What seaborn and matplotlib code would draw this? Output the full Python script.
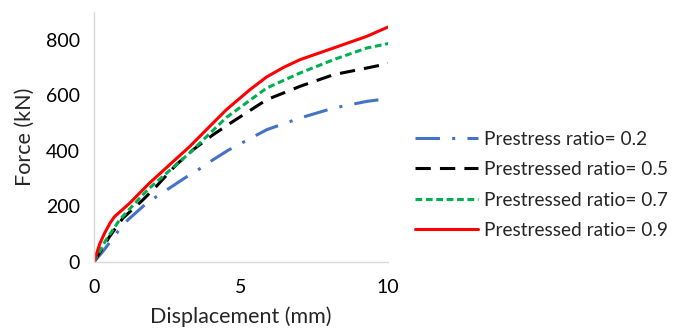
import numpy as np
import pandas as pd
import matplotlib
matplotlib.use("Agg")
import matplotlib.pyplot as plt
import seaborn as sns

x02 = [0, 0.3, 0.81, 1.15, 1.72, 2.12, 2.57, 3.2, 3.59, 4.05, 4.56, 5.87, 7.0, 8.14, 9.27, 10]
f02 = [0, 37, 109, 151, 205, 235, 266, 310, 335, 368, 402, 476, 518, 554, 578, 588]
x05 = [0, 0.19, 0.53, 0.98, 1.66, 2.12, 2.8, 3.37, 4.05, 4.73, 5.87, 7.0, 8.14, 9.27, 10]
f05 = [0, 32, 91, 157, 223, 272, 350, 404, 458, 506, 584, 632, 674, 698, 714]
x07 = [0, 0.41, 0.87, 1.6, 1.89, 3.25, 4.5, 5.87, 7.0, 8.14, 9.27, 10]
f07 = [0, 79, 151, 235, 266, 392, 520, 626, 680, 728, 770, 786]
x09 = [0, 0.2, 0.36, 0.55, 0.7, 1.21, 1.89, 3.25, 4.5, 5.3, 5.87, 6.44, 7.0, 8.14, 9.27, 10]
f09 = [0, 65, 103, 140, 163, 211, 284, 415, 548, 620, 666, 700, 728, 770, 812, 846]
labels = ["Prestress ratio= 0.2", "Prestressed ratio= 0.5",
          "Prestressed ratio= 0.7", "Prestressed ratio= 0.9"]

sns.set_theme(style="white")
plt.rcParams['font.family'] = ['Lato', 'DejaVu Sans']

fig = plt.figure(figsize=(6.8, 3.3), dpi=100)
ax = fig.add_axes([0.138, 0.206, 0.433, 0.758])

xs = [x02, x05, x07, x09]
series = [f02, f05, f07, f09]
colors = ["#4472C4", "#000000", "#00B050", "#FF0000"]
dashes = [(8, 4, 1, 4), (5, 3), (2.2, 1.2), None]
for xv, vals, lab, c in zip(xs, series, labels, colors):
    df = pd.DataFrame({"x": xv, "y": vals})
    sns.lineplot(data=df, x="x", y="y", ax=ax, color=c, linewidth=2.2,
                 label=lab, sort=False)

for ln, d in zip(ax.lines, dashes):
    if d is not None:
        ln.set_dashes(d)
    ln.set_solid_joinstyle("round")

ax.set_xlim(0, 10)
ax.set_ylim(0, 900)
ax.set_xticks([0, 5, 10])
ax.set_yticks([0, 200, 400, 600, 800])
ax.tick_params(labelsize=14, length=0, colors="#000000")
ax.tick_params(axis="x", pad=12)
ax.tick_params(axis="y", pad=10)
for s in ["top", "right"]:
    ax.spines[s].set_visible(False)
for s in ["left", "bottom"]:
    ax.spines[s].set_color("#d9d9d9")
    ax.spines[s].set_linewidth(1.0)
ax.set_xlabel("Displacement (mm)", fontsize=15.5, labelpad=8)
ax.set_ylabel("Force (kN)", fontsize=15.5, labelpad=8)

ax.legend(loc="center left", bbox_to_anchor=(0.61, 0.44),
          bbox_transform=fig.transFigure, frameon=False, fontsize=13.8,
          handlelength=3.3, handletextpad=0.3, labelspacing=0.7,
          borderpad=0, borderaxespad=0)

fig.savefig("out.png", dpi=100)
